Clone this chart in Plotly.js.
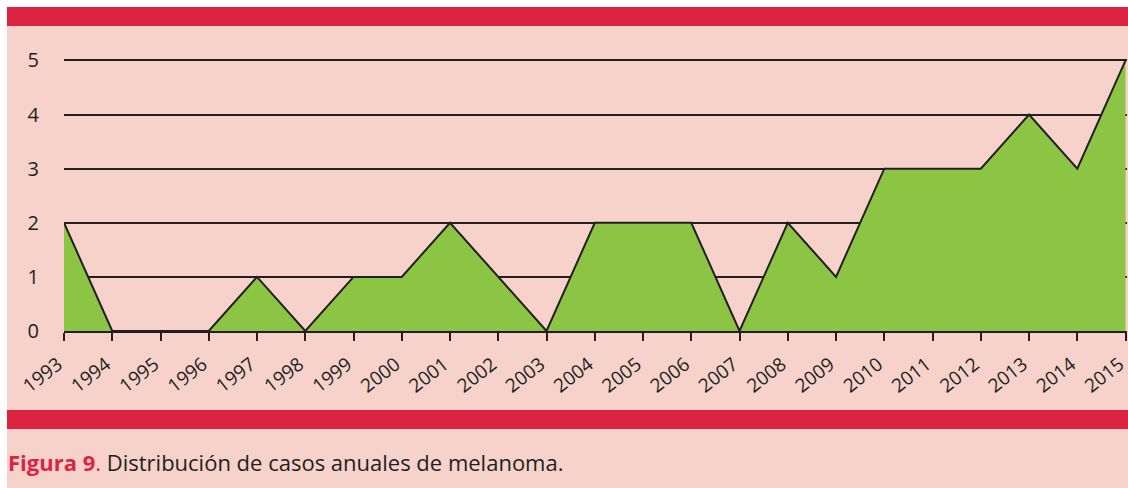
<!DOCTYPE html>
<html><head><meta charset="utf-8">
<script src="https://cdn.plot.ly/plotly-3.0.1.min.js"></script>
<style>html,body{margin:0;padding:0;background:#fff}#c{width:1128px;height:488px}</style>
</head><body><div id="c"></div>
<script>
const years = [1993,1994,1995,1996,1997,1998,1999,2000,2001,2002,2003,2004,2005,2006,2007,2008,2009,2010,2011,2012,2013,2014,2015];
const cases = [2,0,0,0,1,0,1,1,2,1,0,2,2,2,0,2,1,3,3,3,4,3,5];
const yTicks = [0,1,2,3,4,5];
const captionBold = 'Figura 9';
const captionRest = 'Distribución de casos anuales de melanoma.';

const W = 1128, H = 488;
const L = 64, R = 1, B = 157, T = 55;
const pw = W - L - R, ph = H - T - B;
const px = x => (x - L) / pw;
const py = y => (H - B - y) / ph;

const ink = '#231f20';
const trace = {
  x: years, y: cases, type: 'scatter', mode: 'lines',
  fill: 'tozeroy', fillcolor: '#8bc543',
  line: {color: ink, width: 2}, hoverinfo: 'skip', cliponaxis: false
};
const layout = {
  width: W, height: H,
  margin: {l: L, r: R, t: T, b: B},
  paper_bgcolor: '#f6d2cb', plot_bgcolor: 'rgba(0,0,0,0)',
  showlegend: false,
  font: {family: 'Open Sans, sans-serif', color: ink},
  xaxis: {
    range: [1993, 2015.03], tickvals: years, ticktext: years.map(String),
    tickangle: -38, ticks: 'outside', ticklen: 8, tickwidth: 2, tickcolor: ink,
    ticklabeloverflow: 'allow', ticklabelstandoff: 5, ticklabelshift: -6,
    showline: true, linecolor: ink, linewidth: 2, showgrid: false, zeroline: false,
    tickfont: {size: 19, color: ink, family: 'Open Sans, sans-serif'}, fixedrange: true
  },
  yaxis: {
    range: [0, 5.1], tickvals: yTicks, ticks: '', showline: false,
    showgrid: true, gridcolor: ink, gridwidth: 2, zeroline: false,
    ticklabelstandoff: 24,
    tickfont: {size: 20, color: ink, family: 'Open Sans, sans-serif'}, fixedrange: true
  },
  shapes: [
    {type: 'rect', xref: 'paper', yref: 'paper', x0: px(0), x1: px(W), y0: py(0), y1: py(7), fillcolor: '#ffffff', line: {width: 0}, layer: 'below'},
    {type: 'rect', xref: 'paper', yref: 'paper', x0: px(0), x1: px(7), y0: py(0), y1: py(H), fillcolor: '#ffffff', line: {width: 0}, layer: 'below'},
    {type: 'rect', xref: 'paper', yref: 'paper', x0: px(7), x1: px(W), y0: py(7), y1: py(26), fillcolor: '#dc2341', line: {width: 0}, layer: 'below'},
    {type: 'rect', xref: 'paper', yref: 'paper', x0: px(7), x1: px(W), y0: py(410), y1: py(429), fillcolor: '#dc2341', line: {width: 0}, layer: 'below'}
  ],
  annotations: [{
    xref: 'paper', yref: 'paper', x: px(6), y: py(462), xanchor: 'left', yanchor: 'middle',
    showarrow: false, align: 'left',
    text: '<b><span style="color:#dc2341">' + captionBold + '</span></b><span style="color:#dc2341">.</span> ' + captionRest,
    font: {size: 22, color: ink, family: 'Open Sans, sans-serif'}
  }]
};
Plotly.newPlot('c', [trace], layout, {displayModeBar: false, staticPlot: true});
</script></body></html>
